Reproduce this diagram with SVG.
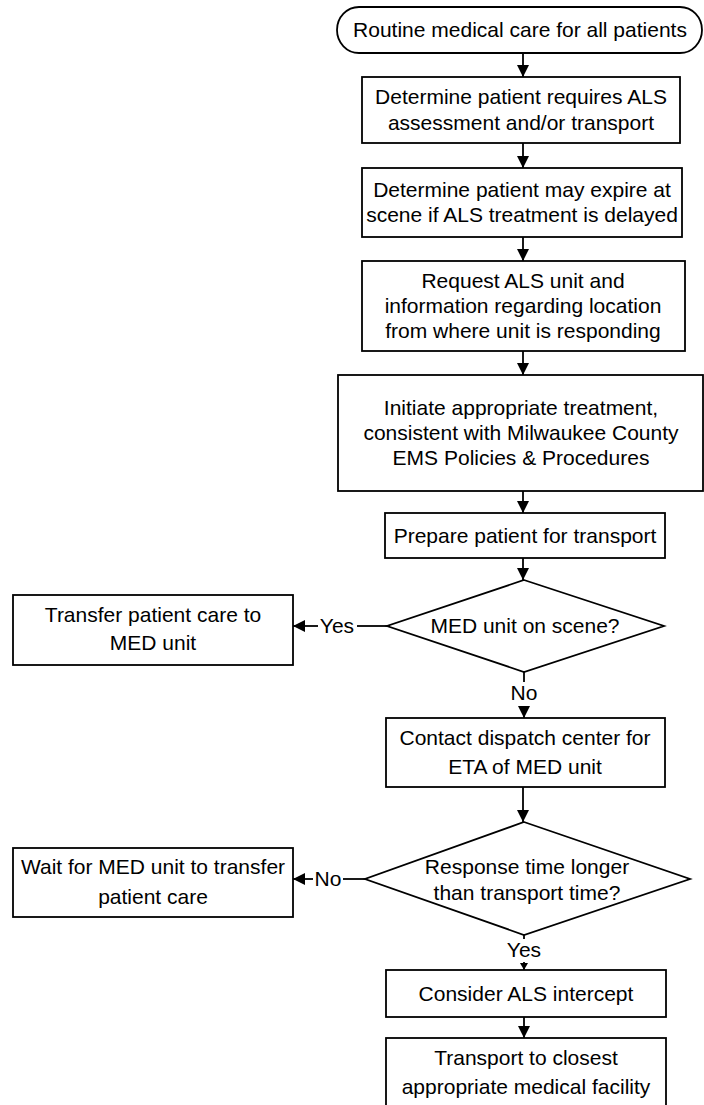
<svg xmlns="http://www.w3.org/2000/svg" width="704" height="1105" viewBox="0 0 704 1105">
<defs>
<style>
.box{fill:#fff;stroke:#000;stroke-width:1.8}
.t{font-family:"Liberation Sans",Arial,sans-serif;font-size:21px;fill:#000;text-anchor:middle}
.c{fill:none;stroke:#000;stroke-width:1.8}
</style>
<marker id="ah" markerWidth="12" markerHeight="12" viewBox="0 0 12 12" refX="12" refY="6" orient="auto" markerUnits="userSpaceOnUse">
<path d="M0,0 L12,6 L0,12 Z" fill="#000"/>
</marker>
<marker id="ahs" markerWidth="7" markerHeight="8" viewBox="0 0 7 8" refX="7" refY="4" orient="auto" markerUnits="userSpaceOnUse">
<path d="M0,0 L7,4 L0,8 Z" fill="#000"/>
</marker>
</defs>
<rect width="704" height="1105" fill="#fff"/>
<g id="connectors">
<line class="c" x1="523" y1="53" x2="523" y2="77" marker-end="url(#ah)"/>
<line class="c" x1="523" y1="143" x2="523" y2="168" marker-end="url(#ah)"/>
<line class="c" x1="523" y1="237" x2="523" y2="261" marker-end="url(#ah)"/>
<line class="c" x1="523" y1="351" x2="523" y2="375" marker-end="url(#ah)"/>
<line class="c" x1="523" y1="491" x2="523" y2="513" marker-end="url(#ah)"/>
<line class="c" x1="523" y1="558" x2="523" y2="580" marker-end="url(#ah)"/>
<line class="c" x1="524" y1="672" x2="524" y2="682"/>
<line class="c" x1="524" y1="706" x2="524" y2="718" marker-end="url(#ah)"/>
<text class="t" x="524" y="700">No</text>
<line class="c" x1="523" y1="787" x2="523" y2="822" marker-end="url(#ah)"/>
<line class="c" x1="524" y1="935" x2="524" y2="939"/>
<line class="c" x1="524" y1="962" x2="524" y2="970" marker-end="url(#ahs)"/>
<text class="t" x="524" y="957">Yes</text>
<line class="c" x1="524" y1="1017" x2="524" y2="1038" marker-end="url(#ah)"/>
<line class="c" x1="387" y1="626" x2="357" y2="626"/>
<line class="c" x1="318" y1="626" x2="293" y2="626" marker-end="url(#ah)"/>
<text class="t" x="337" y="633">Yes</text>
<line class="c" x1="365" y1="879" x2="343" y2="879"/>
<line class="c" x1="313" y1="879" x2="293" y2="879" marker-end="url(#ah)"/>
<text class="t" x="328" y="886">No</text>
</g>
<g id="start">
<rect class="box" x="337" y="7" width="365" height="46" rx="22" ry="23"/>
<text class="t" x="520" y="37">Routine medical care for all patients</text>
</g>
<g id="determine-als">
<rect class="box" x="362" y="77" width="318" height="66"/>
<text class="t" x="521" y="104">Determine patient requires ALS</text>
<text class="t" x="521" y="130">assessment and/or transport</text>
</g>
<g id="may-expire">
<rect class="box" x="362" y="168" width="320" height="69"/>
<text class="t" x="522" y="197">Determine patient may expire at</text>
<text class="t" x="522" y="222">scene if ALS treatment is delayed</text>
</g>
<g id="request-als">
<rect class="box" x="362" y="261" width="323" height="90"/>
<text class="t" x="523" y="288">Request ALS unit and</text>
<text class="t" x="523" y="313">information regarding location</text>
<text class="t" x="523" y="338">from where unit is responding</text>
</g>
<g id="initiate-treatment">
<rect class="box" x="338" y="375" width="365" height="116"/>
<text class="t" x="521" y="415">Initiate appropriate treatment,</text>
<text class="t" x="521" y="440">consistent with Milwaukee County</text>
<text class="t" x="521" y="465">EMS Policies &amp; Procedures</text>
</g>
<g id="prepare">
<rect class="box" x="385" y="513" width="280" height="45"/>
<text class="t" x="525" y="543">Prepare patient for transport</text>
</g>
<g id="med-on-scene">
<polygon class="box" points="524,580 664,626 524,672 387,626"/>
<text class="t" x="525" y="633">MED unit on scene?</text>
</g>
<g id="transfer-care">
<rect class="box" x="13" y="595" width="280" height="70"/>
<text class="t" x="153" y="622">Transfer patient care to</text>
<text class="t" x="153" y="650">MED unit</text>
</g>
<g id="contact-dispatch">
<rect class="box" x="386" y="718" width="279" height="69"/>
<text class="t" x="525" y="745">Contact dispatch center for</text>
<text class="t" x="525" y="774">ETA of MED unit</text>
</g>
<g id="response-time">
<polygon class="box" points="524,822 690,879 524,935 365,879"/>
<text class="t" x="527" y="874">Response time longer</text>
<text class="t" x="527" y="900">than transport time?</text>
</g>
<g id="wait-med">
<rect class="box" x="13" y="848" width="280" height="69"/>
<text class="t" x="153" y="874">Wait for MED unit to transfer</text>
<text class="t" x="153" y="904">patient care</text>
</g>
<g id="consider-intercept">
<rect class="box" x="386" y="970" width="280" height="47"/>
<text class="t" x="526" y="1001">Consider ALS intercept</text>
</g>
<g id="transport">
<rect class="box" x="386" y="1038" width="280" height="80"/>
<text class="t" x="526" y="1065">Transport to closest</text>
<text class="t" x="526" y="1094">appropriate medical facility</text>
</g>
</svg>
